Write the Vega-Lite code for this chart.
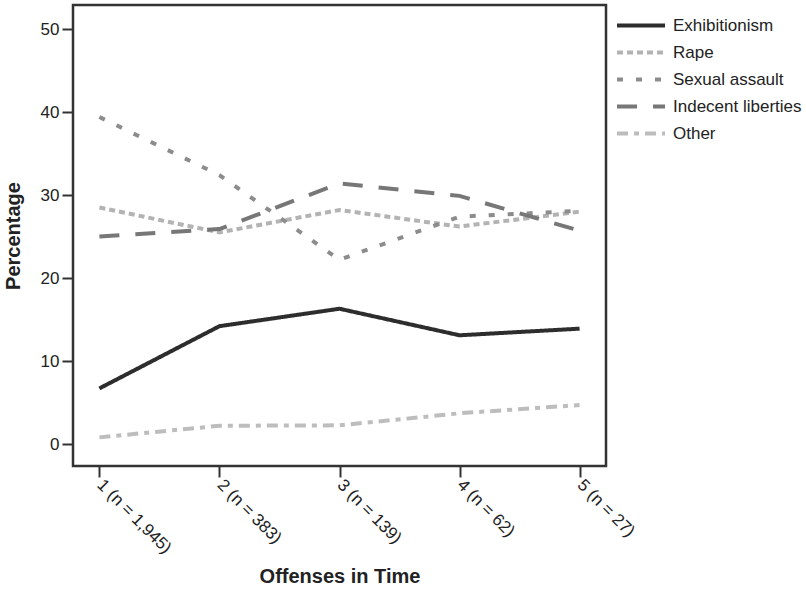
{
  "$schema": "https://vega.github.io/schema/vega-lite/v6.json",
  "autosize": "none",
  "width": 533,
  "height": 461,
  "padding": {"left": 73, "top": 5, "right": 200, "bottom": 125},
  "background": "white",
  "config": {
    "font": "Liberation Sans",
    "view": {"stroke": "#333333", "strokeWidth": 2.5},
    "axis": {"grid": false, "domain": false, "tickColor": "#333333", "tickWidth": 2, "tickSize": 11, "labelFontSize": 17, "labelColor": "#222222", "titleFontSize": 20, "titleColor": "#222222", "titleFontWeight": "bold"}
  },
  "data": {"values": [
    {"offense": "1 (n = 1,945)", "series": "Exhibitionism", "pct": 6.7},
    {"offense": "2 (n = 383)", "series": "Exhibitionism", "pct": 14.2},
    {"offense": "3 (n = 139)", "series": "Exhibitionism", "pct": 16.3},
    {"offense": "4 (n = 62)", "series": "Exhibitionism", "pct": 13.1},
    {"offense": "5 (n = 27)", "series": "Exhibitionism", "pct": 13.9},
    {"offense": "1 (n = 1,945)", "series": "Rape", "pct": 28.5},
    {"offense": "2 (n = 383)", "series": "Rape", "pct": 25.5},
    {"offense": "3 (n = 139)", "series": "Rape", "pct": 28.2},
    {"offense": "4 (n = 62)", "series": "Rape", "pct": 26.2},
    {"offense": "5 (n = 27)", "series": "Rape", "pct": 28.0},
    {"offense": "1 (n = 1,945)", "series": "Sexual assault", "pct": 39.4},
    {"offense": "2 (n = 383)", "series": "Sexual assault", "pct": 32.4},
    {"offense": "3 (n = 139)", "series": "Sexual assault", "pct": 22.2},
    {"offense": "4 (n = 62)", "series": "Sexual assault", "pct": 27.4},
    {"offense": "5 (n = 27)", "series": "Sexual assault", "pct": 28.1},
    {"offense": "1 (n = 1,945)", "series": "Indecent liberties", "pct": 25.0},
    {"offense": "2 (n = 383)", "series": "Indecent liberties", "pct": 25.9},
    {"offense": "3 (n = 139)", "series": "Indecent liberties", "pct": 31.4},
    {"offense": "4 (n = 62)", "series": "Indecent liberties", "pct": 29.9},
    {"offense": "5 (n = 27)", "series": "Indecent liberties", "pct": 25.7},
    {"offense": "1 (n = 1,945)", "series": "Other", "pct": 0.8},
    {"offense": "2 (n = 383)", "series": "Other", "pct": 2.2},
    {"offense": "3 (n = 139)", "series": "Other", "pct": 2.25},
    {"offense": "4 (n = 62)", "series": "Other", "pct": 3.7},
    {"offense": "5 (n = 27)", "series": "Other", "pct": 4.7}
  ]},
  "mark": {"type": "line", "strokeWidth": 4, "clip": true},
  "encoding": {
    "x": {"field": "offense", "type": "ordinal", "scale": {"type": "point", "padding": 0.22},
      "axis": {"title": "Offenses in Time", "labelAngle": 45, "labelAlign": "left", "labelBaseline": "middle", "labelPadding": 5, "titleY": 100, "titleBaseline": "top"}},
    "y": {"field": "pct", "type": "quantitative", "scale": {"domain": [-2.65, 52.9], "nice": false, "zero": false},
      "axis": {"title": "Percentage", "values": [0, 10, 20, 30, 40, 50], "labelPadding": 3, "titleX": -50}},
    "color": {"field": "series", "type": "nominal",
      "scale": {"domain": ["Exhibitionism", "Rape", "Sexual assault", "Indecent liberties", "Other"], "range": ["#2d2d2d", "#b3b3b3", "#8c8c8c", "#777777", "#bdbdbd"]},
      "legend": {"title": null, "orient": "none", "legendX": 542, "legendY": 7, "symbolType": "stroke", "symbolSize": 2304, "symbolStrokeWidth": 4, "labelFontSize": 17, "labelColor": "#222222", "labelOffset": 6, "rowPadding": 0, "clipHeight": 27}},
    "strokeDash": {"field": "series", "type": "nominal",
      "scale": {"domain": ["Exhibitionism", "Rape", "Sexual assault", "Indecent liberties", "Other"], "range": [[1, 0], [6, 4], [6, 13], [20, 16], [11, 6, 5, 6]]},
      "legend": {"title": null, "orient": "none", "legendX": 542, "legendY": 7, "symbolType": "stroke", "symbolSize": 2304, "symbolStrokeWidth": 4, "labelFontSize": 17, "labelColor": "#222222", "labelOffset": 6, "rowPadding": 0, "clipHeight": 27}}
  }
}
